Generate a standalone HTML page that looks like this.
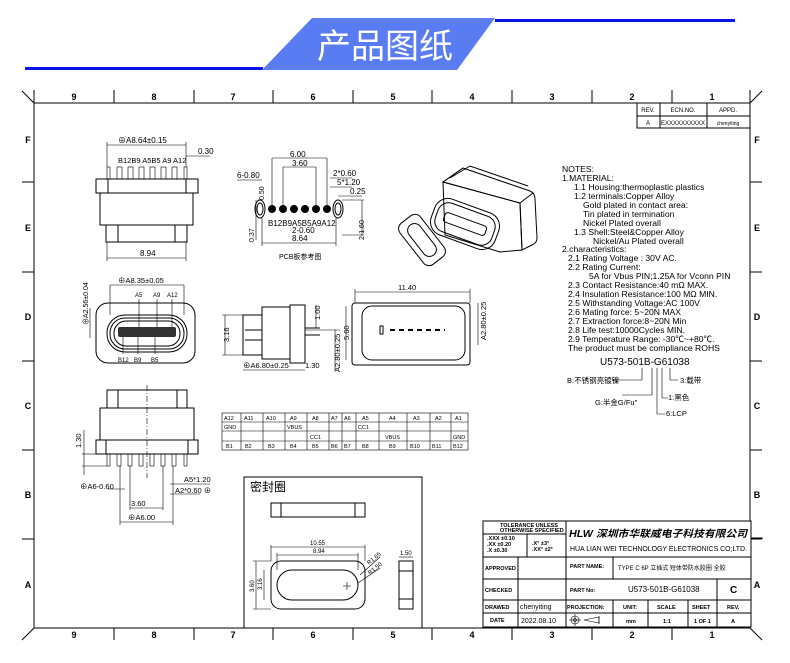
<!DOCTYPE html>
<html><head><meta charset="utf-8"><style>
html,body{margin:0;padding:0;background:#fff;}
svg{display:block;}
text{font-family:"Liberation Sans","Noto Sans CJK SC",sans-serif;fill:#000;}
.s{stroke:#000;fill:none;stroke-width:1;}
.t{stroke:#000;fill:none;stroke-width:0.6;}
.b{font-weight:bold;}
</style></head><body>
<svg width="790" height="663" viewBox="0 0 790 663" xmlns="http://www.w3.org/2000/svg">
<rect x="25" y="67" width="238" height="3" fill="#0a14f0"/>
<rect x="495" y="19" width="240" height="3" fill="#0a14f0"/>
<polygon points="312,18 495,18 457,70 262,70" fill="#5a7cf2"/>
<text x="385" y="58" font-size="34" text-anchor="middle" style="fill:#fff" font-family="Noto Sans CJK SC,sans-serif">产品图纸</text>

<g class="s">
<rect x="34" y="103" width="716" height="525"/>
<line x1="34" y1="90" x2="34" y2="103"/><line x1="750" y1="90" x2="750" y2="103"/>
<line x1="22" y1="91" x2="34" y2="103"/><line x1="762" y1="91" x2="750" y2="103"/>
<line x1="22" y1="640" x2="34" y2="628"/><line x1="762" y1="640" x2="750" y2="628"/>
</g>
<g class="s" stroke-width="1.2">
<line x1="114" y1="90" x2="114" y2="103"/><line x1="194" y1="90" x2="194" y2="103"/><line x1="273" y1="90" x2="273" y2="103"/><line x1="353" y1="90" x2="353" y2="103"/><line x1="432" y1="90" x2="432" y2="103"/><line x1="512" y1="90" x2="512" y2="103"/><line x1="592" y1="90" x2="592" y2="103"/><line x1="672" y1="90" x2="672" y2="103"/>
<line x1="114" y1="628" x2="114" y2="640"/><line x1="194" y1="628" x2="194" y2="640"/><line x1="273" y1="628" x2="273" y2="640"/><line x1="353" y1="628" x2="353" y2="640"/><line x1="432" y1="628" x2="432" y2="640"/><line x1="512" y1="628" x2="512" y2="640"/><line x1="592" y1="628" x2="592" y2="640"/><line x1="672" y1="628" x2="672" y2="640"/>
<line x1="22" y1="182" x2="34" y2="182"/><line x1="22" y1="272" x2="34" y2="272"/><line x1="22" y1="361" x2="34" y2="361"/><line x1="22" y1="450" x2="34" y2="450"/><line x1="22" y1="539" x2="34" y2="539"/>
<line x1="750" y1="182" x2="762" y2="182"/><line x1="750" y1="272" x2="762" y2="272"/><line x1="750" y1="361" x2="762" y2="361"/><line x1="750" y1="450" x2="762" y2="450"/><line x1="750" y1="539" x2="762" y2="539"/>
</g>
<g font-size="9" class="b" text-anchor="middle">
<text x="74" y="100">9</text><text x="154" y="100">8</text><text x="233" y="100">7</text><text x="313" y="100">6</text><text x="393" y="100">5</text><text x="472" y="100">4</text><text x="552" y="100">3</text><text x="632" y="100">2</text><text x="712" y="100">1</text>
<text x="74" y="638">9</text><text x="154" y="638">8</text><text x="233" y="638">7</text><text x="313" y="638">6</text><text x="393" y="638">5</text><text x="472" y="638">4</text><text x="552" y="638">3</text><text x="632" y="638">2</text><text x="712" y="638">1</text>
<text x="28" y="143">F</text><text x="28" y="231">E</text><text x="28" y="320">D</text><text x="28" y="409">C</text><text x="28" y="498">B</text><text x="28" y="588">A</text>
<text x="757" y="143">F</text><text x="757" y="231">E</text><text x="757" y="320">D</text><text x="757" y="409">C</text><text x="757" y="498">B</text><text x="757" y="588">A</text>
</g>
<g class="s"><rect x="637" y="103" width="113" height="25"/><line x1="637" y1="116" x2="750" y2="116"/><line x1="660" y1="103" x2="660" y2="128"/><line x1="707" y1="103" x2="707" y2="128"/></g>
<g font-size="6" text-anchor="middle"><text x="648" y="112">REV.</text><text x="683" y="112">ECN.NO.</text><text x="728" y="112">APPD.</text><text x="648" y="125">A</text><text x="683" y="125">EXXXXXXXXXX</text><text x="728" y="125" font-size="5">chenyiting</text></g>

<!-- view 1 -->
<g class="s">
<rect x="96" y="179" width="102" height="14"/><line x1="108" y1="179" x2="108" y2="193"/><line x1="186" y1="179" x2="186" y2="193"/>
<rect x="100" y="193" width="93" height="32"/>
<rect x="106" y="225" width="81" height="17"/><line x1="118" y1="225" x2="118" y2="242"/><line x1="175" y1="225" x2="175" y2="242"/>
</g>
<g class="t">
<rect x="107" y="167" width="3" height="12"/><rect x="117" y="167" width="5" height="12"/><rect x="128" y="167" width="5" height="12"/><rect x="139" y="167" width="5" height="12"/><rect x="150" y="167" width="5" height="12"/><rect x="161" y="167" width="5" height="12"/><rect x="172" y="167" width="5" height="12"/><rect x="184" y="167" width="3" height="12"/>
<line x1="107" y1="145" x2="186" y2="145"/><line x1="107" y1="142" x2="107" y2="167"/><line x1="186" y1="142" x2="186" y2="167"/>
<line x1="107" y1="258" x2="186" y2="258"/><line x1="107" y1="242" x2="107" y2="261"/><line x1="186" y1="242" x2="186" y2="261"/>
<line x1="186" y1="156" x2="210" y2="156"/>
</g>
<g font-size="8"><text x="118" y="143">⊕A8.64±0.15</text><text x="198" y="154">0.30</text><text x="118" y="163" font-size="7.5">B12B9 A5B5 A9 A12</text><text x="140" y="256">8.94</text></g>

<!-- PCB -->
<g fill="#000"><circle cx="272" cy="209" r="4"/><circle cx="283" cy="209" r="4"/><circle cx="294" cy="209" r="4"/><circle cx="305" cy="209" r="4"/><circle cx="316" cy="209" r="4"/><circle cx="327" cy="209" r="4"/></g>
<g class="s"><ellipse cx="260" cy="209" rx="5" ry="9"/><ellipse cx="338" cy="209" rx="5" ry="9"/><ellipse cx="260" cy="209" rx="3" ry="6"/><ellipse cx="338" cy="209" rx="3" ry="6"/></g>
<g class="t">
<line x1="272" y1="158" x2="327" y2="158"/><line x1="272" y1="158" x2="272" y2="205"/><line x1="327" y1="158" x2="327" y2="205"/>
<line x1="283" y1="167" x2="316" y2="167"/><line x1="283" y1="167" x2="283" y2="205"/><line x1="316" y1="167" x2="316" y2="205"/>
<line x1="237" y1="180" x2="262" y2="180"/><line x1="330" y1="178" x2="352" y2="178"/><line x1="330" y1="187" x2="352" y2="187"/><line x1="338" y1="196" x2="362" y2="196"/>
<line x1="262" y1="243" x2="336" y2="243"/><line x1="262" y1="218" x2="262" y2="246"/><line x1="336" y1="218" x2="336" y2="246"/>
<line x1="342" y1="200" x2="364" y2="200"/><line x1="342" y1="235" x2="364" y2="235"/><line x1="362" y1="200" x2="362" y2="235"/>
<line x1="256" y1="200" x2="256" y2="240"/>
</g>
<g font-size="8"><text x="290" y="157">6.00</text><text x="292" y="166">3.60</text><text x="237" y="178">6-0.80</text><text x="333" y="176">2*0.60</text><text x="337" y="185">5*1.20</text><text x="350" y="194">0.25</text><text x="268" y="226">B12B9A5B5A9A12</text><text x="292" y="233">2-0.60</text><text x="292" y="241">8.64</text><text x="279" y="259" font-size="7">PCB板参考图</text>
<text transform="translate(264,200) rotate(-90)" font-size="7">0.50</text><text transform="translate(254,242) rotate(-90)" font-size="7">0.37</text><text transform="translate(364,240) rotate(-90)" font-size="7">2-1.60</text></g>

<!-- 3D iso -->
<g class="s" stroke="#222" fill="#fff">
<path d="M463,168 L530,191 Q535,193 535,199 L537,238 Q537,243 532,245 L522,250 L520,203 L443,182 Z"/>
<path d="M443,182 L520,203 L522,250 L500,252 L445,235 Z"/>
<path d="M443,182 L463,168"/><path d="M520,203 L533,193"/>
<path d="M450,178 L470,166 L528,186"/>
<g transform="translate(465,224) rotate(20)"><rect x="-34" y="-19" width="68" height="38" rx="14"/><rect x="-30" y="-15" width="60" height="30" rx="11"/><rect x="-22" y="-5" width="44" height="10" rx="3"/></g>
<g transform="translate(422,240) rotate(52)"><rect x="-26" y="-13" width="52" height="26" rx="7"/><rect x="-19" y="-7" width="38" height="14" rx="7"/></g>
</g>

<!-- front view D -->
<g class="s">
<rect x="96" y="303" width="99" height="60" rx="12"/>
<rect x="107" y="315" width="80" height="37" rx="18"/>
<rect x="110" y="318" width="74" height="31" rx="15"/>
<rect x="114" y="321" width="66" height="25" rx="12"/>
</g>
<rect x="118" y="327" width="58" height="10" fill="#333" rx="2"/>
<g class="t"><line x1="110" y1="285" x2="184" y2="285"/><line x1="110" y1="285" x2="110" y2="315"/><line x1="184" y1="285" x2="184" y2="315"/>
<line x1="90" y1="308" x2="90" y2="338"/><line x1="139" y1="299" x2="139" y2="327"/><line x1="157" y1="299" x2="157" y2="327"/><line x1="172" y1="299" x2="172" y2="327"/>
<line x1="123" y1="337" x2="123" y2="354"/><line x1="138" y1="337" x2="138" y2="354"/><line x1="155" y1="337" x2="155" y2="354"/></g>
<g font-size="7.5"><text x="118" y="283">⊕A8.35±0.05</text><text x="135" y="297" font-size="6">A5</text><text x="153" y="297" font-size="6">A9</text><text x="167" y="297" font-size="6">A12</text>
<text x="118" y="362" font-size="6">B12</text><text x="134" y="362" font-size="6">B9</text><text x="151" y="362" font-size="6">B5</text>
<text transform="translate(88,325) rotate(-90)" font-size="7">⊕A2.56±0.04</text></g>

<!-- side view -->
<g class="s">
<rect x="243" y="315" width="19" height="40"/><rect x="262" y="307" width="28" height="52"/><rect x="290" y="305" width="15" height="58"/>
<line x1="245" y1="330" x2="262" y2="330"/><line x1="245" y1="340" x2="262" y2="340"/>
<line x1="305" y1="328" x2="320" y2="328"/><line x1="305" y1="335" x2="320" y2="335"/>
</g>
<g class="t"><line x1="225" y1="315" x2="225" y2="355"/><line x1="222" y1="315" x2="243" y2="315"/><line x1="222" y1="355" x2="243" y2="355"/>
<line x1="243" y1="370" x2="305" y2="370"/><line x1="316" y1="305" x2="316" y2="328"/><line x1="335" y1="330" x2="335" y2="372"/><line x1="305" y1="330" x2="340" y2="330"/></g>
<g font-size="7.5"><text transform="translate(229,342) rotate(-90)">3.16</text><text transform="translate(320,320) rotate(-90)">1.00</text><text x="243" y="368">⊕A6.80±0.25</text><text x="305" y="368">1.30</text><text transform="translate(340,372) rotate(-90)">A2.80±0.25</text></g>

<!-- top view right -->
<g class="s"><rect x="352" y="303" width="118" height="62" rx="3"/><rect x="362" y="306" width="103" height="54" rx="10"/></g>
<rect x="380" y="326" width="3" height="8" fill="none" stroke="#000"/>
<line x1="390" y1="330" x2="445" y2="330" stroke="#000" stroke-width="2" stroke-dasharray="5,4"/>
<g class="t"><line x1="355" y1="292" x2="470" y2="292"/><line x1="355" y1="289" x2="355" y2="303"/><line x1="470" y1="289" x2="470" y2="303"/>
<line x1="346" y1="306" x2="346" y2="360"/><line x1="478" y1="303" x2="478" y2="345"/></g>
<g font-size="7.5"><text x="398" y="290">11.40</text><text transform="translate(349,340) rotate(-90)">5.60</text><text transform="translate(486,340) rotate(-90)">A2.80±0.25</text></g>

<!-- notes -->
<g font-size="8.6">
<text x="562" y="172">NOTES:</text>
<text x="562" y="181">1.MATERIAL:</text>
<text x="574" y="190">1.1  Housing:thermoplastic plastics</text>
<text x="574" y="199">1.2  terminals:Copper Alloy</text>
<text x="583" y="208">Gold plated in contact area:</text>
<text x="583" y="217">Tin plated in termination</text>
<text x="583" y="226">Nickel Plated overall</text>
<text x="574" y="235">1.3  Shell:Steel&amp;Copper Alloy</text>
<text x="593" y="244">Nickel/Au Plated overall</text>
<text x="562" y="252">2.characteristics:</text>
<text x="568" y="261">2.1  Rating Voltage : 30V AC.</text>
<text x="568" y="270">2.2  Rating Current:</text>
<text x="589" y="279">5A for Vbus PIN;1.25A for Vconn PIN</text>
<text x="568" y="288">2.3  Contact Resistance:40 mΩ MAX.</text>
<text x="568" y="297">2.4  Insulation Resistance:100 MΩ MIN.</text>
<text x="568" y="306">2.5  Withstanding Voltage:AC 100V</text>
<text x="568" y="315">2.6  Mating force: 5~20N MAX</text>
<text x="568" y="324">2.7  Extraction force:8~20N Min</text>
<text x="568" y="333">2.8  Life test:10000Cycles MIN.</text>
<text x="568" y="342">2.9  Temperature Range: -30℃~+80℃.</text>
<text x="568" y="351">The product must be compliance ROHS</text>
</g>
<text x="600" y="365" font-size="10" font-family="Liberation Serif,serif">U573-501B-G61038</text>
<g class="t"><path d="M642,368 V380 H612"/><path d="M652,368 V395 H622"/><path d="M657,368 V414 H665"/><path d="M662,368 V398 H668"/><path d="M670,368 V380 H678"/></g>
<g font-size="7.5" font-family="Liberation Serif,Noto Serif CJK SC,serif"><text x="567" y="383">B:不锈钢亮镀镍</text><text x="680" y="383">3:载带</text><text x="668" y="400">1:黑色</text><text x="595" y="405">G:半金G/Fu"</text><text x="666" y="416">6:LCP</text></g>

<!-- view C -->
<g class="s">
<rect x="107" y="390" width="80" height="18"/><line x1="118" y1="390" x2="118" y2="408"/><line x1="177" y1="390" x2="177" y2="408"/>
<rect x="100" y="408" width="94" height="32"/>
<rect x="96" y="440" width="102" height="14"/><line x1="106" y1="440" x2="106" y2="454"/><line x1="188" y1="440" x2="188" y2="454"/>
</g>
<g class="t">
<rect x="107" y="454" width="3" height="12"/><rect x="117" y="454" width="4" height="12"/><rect x="128" y="454" width="4" height="12"/><rect x="139" y="454" width="4" height="12"/><rect x="150" y="454" width="4" height="12"/><rect x="161" y="454" width="4" height="12"/><rect x="172" y="454" width="4" height="12"/><rect x="184" y="454" width="3" height="12"/>
<line x1="147" y1="385" x2="147" y2="478" stroke-dasharray="6,2,1,2"/>
<line x1="82" y1="454" x2="96" y2="454"/><line x1="82" y1="466" x2="107" y2="466"/><line x1="84" y1="430" x2="84" y2="475"/>
<line x1="120" y1="466" x2="120" y2="525"/><line x1="173" y1="466" x2="173" y2="525"/><line x1="130" y1="466" x2="130" y2="510"/><line x1="163" y1="466" x2="163" y2="510"/>
<line x1="120" y1="522" x2="173" y2="522"/><line x1="130" y1="508" x2="163" y2="508"/><line x1="108" y1="489" x2="125" y2="489"/><line x1="170" y1="484" x2="210" y2="484"/><line x1="170" y1="494" x2="200" y2="494"/>
</g>
<g font-size="7.5"><text transform="translate(81,448) rotate(-90)">1.30</text><text x="80" y="489">⊕A6-0.60</text><text x="184" y="482">A5*1.20</text><text x="175" y="493">A2*0.60 ⊕</text><text x="131" y="506">3.60</text><text x="128" y="520">⊕A6.00</text></g>

<!-- pin table -->
<g class="t" stroke-width="0.8">
<rect x="222" y="413" width="246" height="37"/>
<line x1="222" y1="422" x2="468" y2="422"/><line x1="222" y1="431" x2="468" y2="431"/><line x1="222" y1="441" x2="468" y2="441"/>
<line x1="241" y1="413" x2="241" y2="450"/><line x1="263" y1="413" x2="263" y2="450"/><line x1="285" y1="413" x2="285" y2="450"/><line x1="307" y1="413" x2="307" y2="450"/><line x1="329" y1="413" x2="329" y2="450"/><line x1="342" y1="413" x2="342" y2="450"/><line x1="356" y1="413" x2="356" y2="450"/><line x1="379" y1="413" x2="379" y2="450"/><line x1="407" y1="413" x2="407" y2="450"/><line x1="430" y1="413" x2="430" y2="450"/><line x1="451" y1="413" x2="451" y2="450"/>
</g>
<g font-size="5.5">
<text x="224" y="420">A12</text><text x="244" y="420">A11</text><text x="266" y="420">A10</text><text x="290" y="420">A9</text><text x="312" y="420">A8</text><text x="331" y="420">A7</text><text x="344" y="420">A6</text><text x="362" y="420">A5</text><text x="389" y="420">A4</text><text x="413" y="420">A3</text><text x="435" y="420">A2</text><text x="455" y="420">A1</text>
<text x="224" y="429">GND</text><text x="287" y="429">VBUS</text><text x="358" y="429">CC1</text>
<text x="310" y="439">CC1</text><text x="385" y="439">VBUS</text><text x="453" y="439">GND</text>
<text x="226" y="448">B1</text><text x="245" y="448">B2</text><text x="268" y="448">B3</text><text x="290" y="448">B4</text><text x="312" y="448">B5</text><text x="331" y="448">B6</text><text x="344" y="448">B7</text><text x="362" y="448">B8</text><text x="389" y="448">B9</text><text x="410" y="448">B10</text><text x="432" y="448">B11</text><text x="453" y="448">B12</text>
</g>

<!-- seal box -->
<g class="s">
<polyline points="244,628 244,477 422,477 422,628"/>
<rect x="271" y="503" width="94" height="14"/><line x1="281" y1="503" x2="281" y2="517"/><line x1="355" y1="503" x2="355" y2="517"/>
<rect x="271" y="561" width="94" height="48" rx="10"/><rect x="277" y="570" width="81" height="30" rx="15"/>
<rect x="399" y="561" width="14" height="48"/><line x1="399" y1="571" x2="413" y2="571"/><line x1="399" y1="599" x2="413" y2="599"/>
</g>
<g class="t"><line x1="271" y1="547" x2="365" y2="547"/><line x1="277" y1="555" x2="358" y2="555"/><line x1="271" y1="545" x2="271" y2="561"/><line x1="365" y1="545" x2="365" y2="561"/><line x1="277" y1="553" x2="277" y2="570"/><line x1="358" y1="553" x2="358" y2="570"/>
<line x1="256" y1="561" x2="256" y2="609"/><line x1="264" y1="570" x2="264" y2="600"/><line x1="253" y1="561" x2="271" y2="561"/><line x1="253" y1="609" x2="271" y2="609"/>
<line x1="360" y1="575" x2="380" y2="557"/><line x1="358" y1="583" x2="380" y2="568"/><line x1="347" y1="582" x2="347" y2="590"/><line x1="343" y1="586" x2="351" y2="586"/>
<line x1="399" y1="557" x2="413" y2="557"/></g>
<text x="250" y="491" font-size="12" font-family="Noto Serif CJK SC,serif">密封圈</text>
<g font-size="6"><text x="310" y="545">10.55</text><text x="313" y="553">8.94</text><text transform="translate(254,592) rotate(-90)">3.60</text><text transform="translate(262,590) rotate(-90)">3.16</text><text transform="translate(369,565) rotate(-40)">R1.65</text><text transform="translate(370,575) rotate(-40)">R1.50</text><text x="400" y="555">1.50</text></g>

<!-- title block -->
<g class="s">
<rect x="483" y="521" width="268" height="106" fill="#fff"/>
<line x1="483" y1="557" x2="751" y2="557"/><line x1="483" y1="579" x2="751" y2="579"/><line x1="483" y1="600" x2="751" y2="600"/><line x1="483" y1="613" x2="751" y2="613"/>
<line x1="566" y1="521" x2="566" y2="627"/><line x1="518" y1="557" x2="518" y2="627"/><line x1="613" y1="557" x2="613" y2="579"/><line x1="613" y1="600" x2="613" y2="627"/>
<line x1="648" y1="600" x2="648" y2="627"/><line x1="688" y1="600" x2="688" y2="627"/><line x1="717" y1="579" x2="717" y2="627"/>
<line x1="483" y1="534" x2="566" y2="534"/><line x1="527" y1="534" x2="527" y2="557"/>
<line x1="751" y1="538" x2="763" y2="538"/>
</g>
<g font-size="5.5" class="b"><text x="500" y="527">TOLERANCE UNLESS</text><text x="500" y="532">OTHERWISE SPECIFIED</text>
<text x="487" y="540">.XXX ±0.10</text><text x="487" y="546">.XX  ±0.20</text><text x="487" y="552">.X   ±0.30</text><text x="532" y="545">.X°  ±3°</text><text x="532" y="551">.XX° ±2°</text>
<text x="485" y="570">APPROVED</text><text x="485" y="592">CHECKED</text><text x="485" y="609">DRAWED</text><text x="490" y="622">DATE</text>
<text x="570" y="568">PART NAME:</text><text x="570" y="592">PART No:</text><text x="567" y="609">PROJECTION:</text>
<text x="623" y="609">UNIT:</text><text x="657" y="609">SCALE</text><text x="692" y="609">SHEET</text><text x="727" y="609">REV.</text>
<text x="626" y="623">mm</text><text x="663" y="623">1:1</text><text x="694" y="623">1 OF 1</text><text x="731" y="623">A</text></g>
<text x="569" y="537" font-size="10" class="b" font-style="italic" textLength="178" lengthAdjust="spacingAndGlyphs">HLW 深圳市华联威电子科技有限公司</text>
<text x="570" y="551" font-size="7" font-family="Liberation Serif,serif" textLength="177" lengthAdjust="spacingAndGlyphs">HUA LIAN WEI TECHNOLOGY ELECTRONICS CO;LTD.</text>
<text x="618" y="570" font-size="6" font-family="Liberation Serif,Noto Serif CJK SC,serif">TYPE C 6P 立插式 短体带防水胶圈 全胶</text>
<text x="628" y="592" font-size="8" font-family="Liberation Serif,serif">U573-501B-G61038</text>
<text x="730" y="593" font-size="10" class="b">C</text>
<text x="520" y="609" font-size="7" font-family="Liberation Serif,serif">chenyiting</text>
<text x="521" y="623" font-size="7" font-family="Liberation Serif,serif">2022.08.10</text>
<g class="t" stroke-width="0.9"><circle cx="575" cy="620" r="4"/><circle cx="575" cy="620" r="1.5"/><line x1="569" y1="620" x2="581" y2="620"/><line x1="575" y1="614" x2="575" y2="626"/><path d="M584,620 L599,617 L599,623 Z"/><line x1="599" y1="616" x2="599" y2="624"/></g>
</svg>
</body></html>
